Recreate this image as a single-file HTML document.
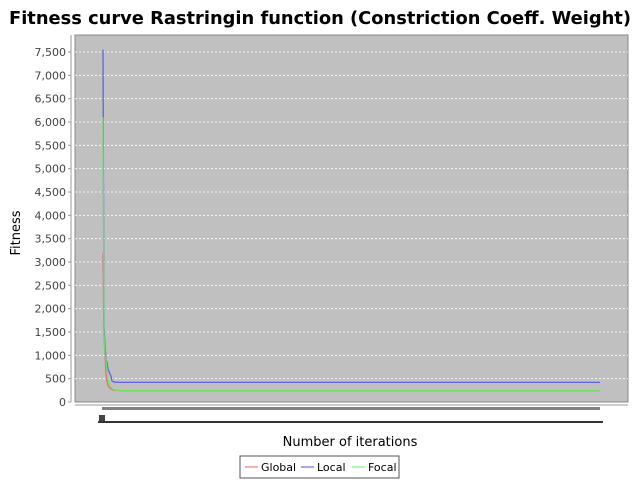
<!DOCTYPE html>
<html><head><meta charset="utf-8"><style>
body{margin:0;background:#fff;font-family:"DejaVu Sans",sans-serif}
svg{display:block}
</style></head><body>
<svg id="c" width="640" height="480" xmlns="http://www.w3.org/2000/svg">
<text x="320" y="24" text-anchor="middle" font-size="18" font-weight="bold" textLength="622" lengthAdjust="spacingAndGlyphs" font-family="DejaVu Sans, sans-serif">Fitness curve Rastringin function (Constriction Coeff. Weight)</text>
<rect x="75" y="35" width="553" height="367" fill="#c0c0c0" stroke="#888"/>
<line x1="71" y1="35" x2="71" y2="402" stroke="#999"/>
<g id="grid"></g><g id="yt"></g><g id="series"></g>
<line x1="75" y1="405" x2="628" y2="405" stroke="#999"/>
<rect x="102" y="407" width="498" height="3" fill="#808080"/>
<rect x="99" y="415" width="6" height="6" fill="#444"/>
<line x1="98" y1="422" x2="603" y2="422" stroke="#333" stroke-width="2"/>
<text x="20" y="233" transform="rotate(-90 20 233)" text-anchor="middle" font-size="13">Fitness</text>
<text x="350" y="446" text-anchor="middle" font-size="13">Number of iterations</text>
<g>
<rect x="240" y="456" width="159" height="22" fill="#fff" stroke="#555"/>
<line x1="245" y1="467" x2="258" y2="467" stroke="#f06060"/>
<text x="261" y="471" font-size="11">Global</text>
<line x1="301" y1="467" x2="314" y2="467" stroke="#5050f0"/>
<text x="317" y="471" font-size="11">Local</text>
<line x1="352" y1="467" x2="365" y2="467" stroke="#60f060"/>
<text x="368" y="471" font-size="11">Focal</text>
</g>
</svg>
<script>
const yTicks=[0,500,1000,1500,2000,2500,3000,3500,4000,4500,5000,5500,6000,6500,7000,7500];
const globalVals=[3200,1400,1000,600,450,350,320,300,280,270,260,255,250,250,248,248,246].concat(Array(483).fill(245));
const localVals=[7550,1600,1200,900,850,700,650,600,550,450,440,430,425,425,422].concat(Array(485).fill(420));
const focalVals=[6100,1500,1000,900,700,500,400,350,320,300,280,270,260,255,250,248,246].concat(Array(483).fill(245));
const NS="http://www.w3.org/2000/svg";
const y=v=>402-v*(350/7500);
const n=globalVals.length;
const x=i=>103+i*(497/(n-1));
const grid=document.getElementById('grid'),yt=document.getElementById('yt'),ser=document.getElementById('series');
yTicks.forEach(t=>{
 if(t>0){const l=document.createElementNS(NS,'line');
 l.setAttribute('x1',75);l.setAttribute('x2',628);l.setAttribute('y1',y(t));l.setAttribute('y2',y(t));
 l.setAttribute('stroke','#fff');l.setAttribute('stroke-dasharray','2,2');l.setAttribute('stroke-width','0.8');
 
 
 grid.appendChild(l);}
 const tk=document.createElementNS(NS,'line');
 tk.setAttribute('x1',68);tk.setAttribute('x2',71);tk.setAttribute('y1',y(t));tk.setAttribute('y2',y(t));tk.setAttribute('stroke','#999');
 
 
 yt.appendChild(tk);
 const tx=document.createElementNS(NS,'text');
 tx.setAttribute('x',66);tx.setAttribute('y',y(t)+4);tx.setAttribute('text-anchor','end');tx.setAttribute('font-size','11');tx.setAttribute('fill','#444');
 tx.textContent=t.toLocaleString('en-US');
 
 
 yt.appendChild(tx);
});
[[globalVals,'#f06060','series-global'],[localVals,'#5050f0','series-local'],[focalVals,'#60f060','series-focal']].forEach(([d,c,nm])=>{
 const p=document.createElementNS(NS,'polyline');
 p.setAttribute('points',d.map((v,i)=>x(i).toFixed(1)+','+y(v).toFixed(1)).join(' '));
 p.setAttribute('fill','none');p.setAttribute('stroke',c);p.setAttribute('stroke-width','1.3');p.setAttribute('opacity','0.85');
 
 
 ser.appendChild(p);
});
</script>
</body></html>
